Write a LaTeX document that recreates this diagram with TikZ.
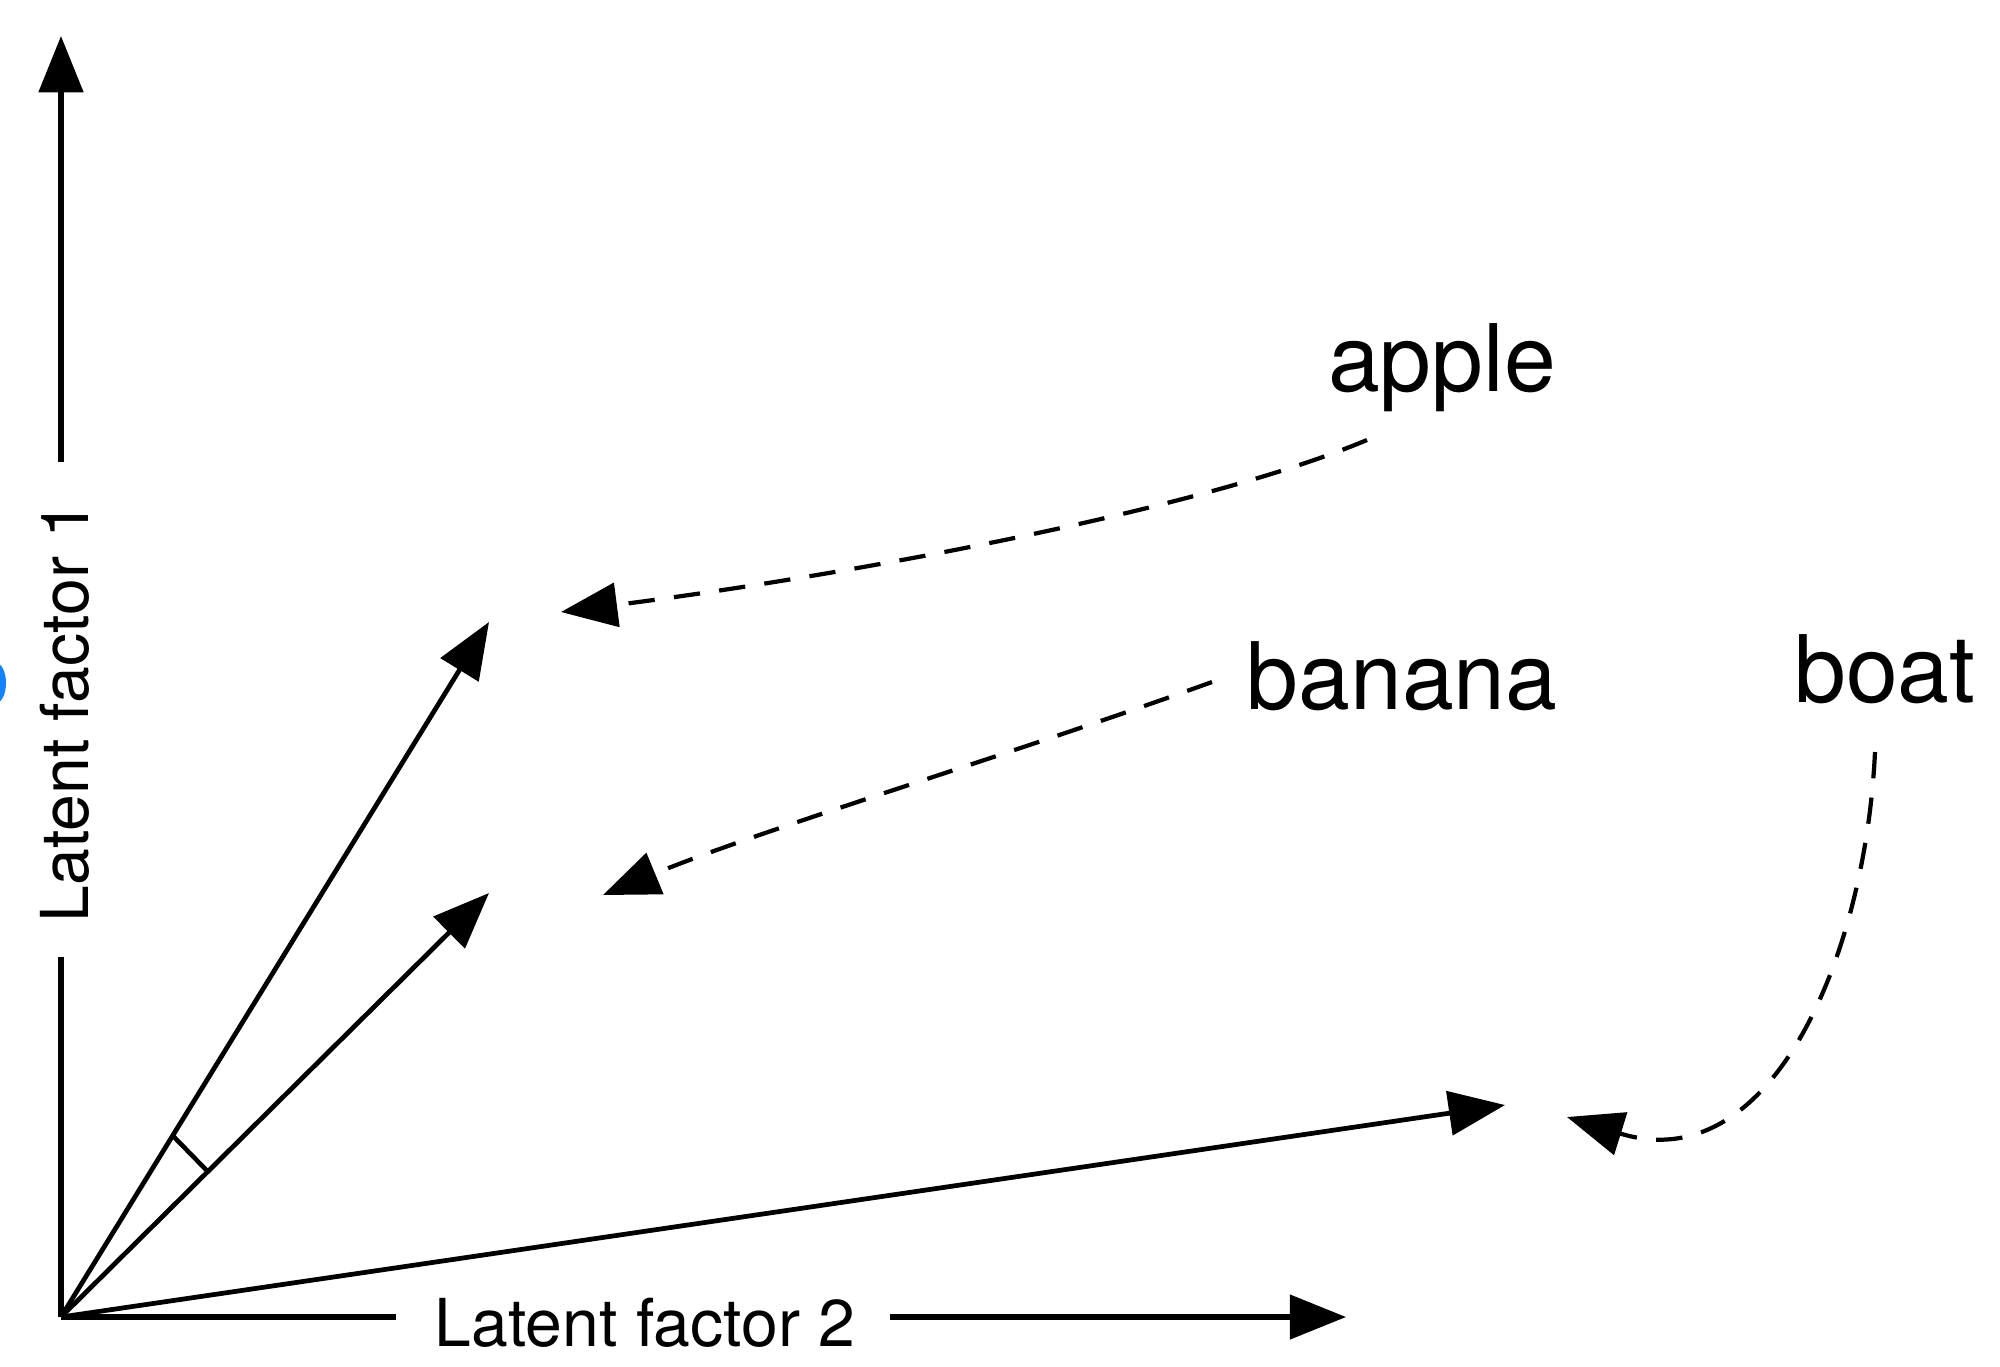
\documentclass[tikz,border=0pt]{standalone}
\usepackage{fontspec}
\setmainfont{TeX Gyre Heros}
\usetikzlibrary{arrows.meta,calc}
\definecolor{blob}{RGB}{20,130,250}
\begin{document}
\begin{tikzpicture}[x=0.01cm,y=-0.01cm,
  tip/.style={-{Triangle[length=16pt,width=12.5pt]}},
  vec/.style={line width=1.35pt,tip},
  axis/.style={line width=1.45pt},
  ptr/.style={line width=1.2pt,dash pattern=on 7.5pt off 5.5pt,tip},
  word/.style={font=\fontsize{26.5}{30}\selectfont,inner sep=0pt,anchor=base},
  axlabel/.style={font=\fontsize{18.8}{22}\selectfont,inner sep=0pt,anchor=base}]
\useasboundingbox (0,0) rectangle (2000,1366);
\fill[blob] (-4,683) ellipse (10 and 20);
% origin and tips
\coordinate (O) at (61,1317);
\coordinate (ytip) at (61,36);
\coordinate (xtip) at (1346,1317);
\coordinate (y1) at (61,957);
\coordinate (y2) at (61,462);
\coordinate (x1) at (396,1317);
\coordinate (x2) at (890,1317);
\coordinate (A) at (489,622);
\coordinate (B) at (489,893);
\coordinate (C) at (1505,1105);
% axis labels
\node[axlabel,rotate=90] (ylab) at (88,712) {Latent factor 1};
\node[axlabel] (xlab) at (645,1346) {Latent factor 2};
% axes
\draw[axis] (O) -- (y1);
\draw[axis,tip] (y2) -- (ytip);
\draw[axis] (O) -- (x1);
\draw[axis,tip] (x2) -- (xtip);
% vectors
\draw[vec] (O) -- (A);
\draw[vec] (O) -- (B);
\draw[vec] (O) -- (C);
% angle mark
\draw[line width=1.3pt] ($(O)!0.261!(A)$) -- ($(O)!0.343!(B)$);
% words
\node[word] (apple) at (1442,391) {apple};
\node[word] (banana) at (1402,709) {banana};
\node[word] (boat) at (1885,702) {boat};
% pointers
\coordinate (pa) at (1367,440);
\coordinate (pb) at (1212,682);
\coordinate (pc) at (1875,752);
\coordinate (ta) at (561,612);
\coordinate (tb) at (603,895);
\coordinate (tc) at (1567,1117);
\draw[ptr] (pa) .. controls (1200,510) and (850,575) .. (ta);
\draw[ptr] (pb) .. controls (1010,755) and (760,830) .. (tb);
\draw[ptr] (pc) .. controls (1865,960) and (1770,1180) .. (tc);
\end{tikzpicture}
\end{document}
